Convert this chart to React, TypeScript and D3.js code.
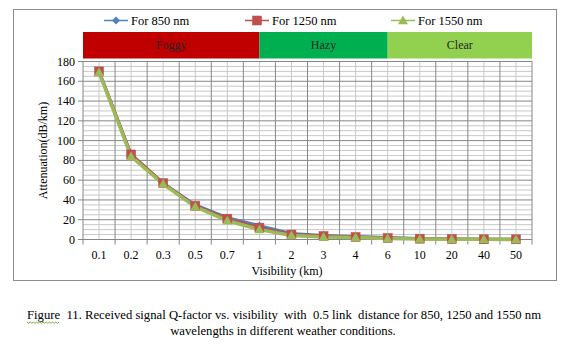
import React from "react";
import * as d3 from "d3";

const categories = ["0.1", "0.2", "0.3", "0.5", "0.7", "1", "2", "3", "4", "6", "10", "20", "40", "50"];
const series850 = [170, 86, 57, 35, 22, 14, 6, 4, 3, 2, 1, 0.5, 0.3, 0.2];
const series1250 = [170, 86, 57, 34, 21, 12, 5, 3.5, 2.5, 1.5, 0.8, 0.4, 0.2, 0.2];
const series1550 = [169, 84, 56, 33, 19, 10, 4, 2.5, 2, 1, 0.5, 0.3, 0.2, 0.1];
const seriesNames = ["For 850 nm", "For 1250 nm", "For 1550 nm"];
const conditions = ["Foggy", "Hazy", "Clear"];
const conditionStart = [0, 5.5, 9.5];
const conditionEnd = [5.5, 9.5, 14];
const yTicks = [0, 20, 40, 60, 80, 100, 120, 140, 160, 180];

const FONT = "'Liberation Serif', 'Times New Roman', serif";

export default function App() {
  const left = 83, right = 532, top = 61.5, bottom = 239.5;
  const xi = d3.scaleLinear().domain([0, categories.length]).range([left, right]);
  const y = d3.scaleLinear().domain([0, 180]).range([bottom, top]);
  const cx = (i: number) => xi(i + 0.5);

  const line = d3.line<number>().x((_, i) => cx(i)).y((d) => y(d));

  const minorY = d3.range(0, 181, 5).filter((v) => v % 20 !== 0);
  const minorX = d3.range(0, categories.length).map((i) => i + 0.5);
  const majorX = d3.range(0, categories.length + 1);

  const colors = ["#4F81BD", "#C0504D", "#9BBB59"];
  const bandColors = ["#C00000", "#00B050", "#92D050"];
  const data = [series850, series1250, series1550];

  const legendX = [104, 245, 391];
  const legendY = 20.5;

  const marker = (k: number, x: number, yy: number, key: string) => {
    if (k === 0) {
      const s = 4;
      return <path key={key} d={`M${x},${yy - s}L${x + s},${yy}L${x},${yy + s}L${x - s},${yy}Z`} fill={colors[0]} />;
    }
    if (k === 1) {
      return <rect key={key} x={x - 4.5} y={yy - 4.5} width={9} height={9} fill={colors[1]} stroke="#B54A47" strokeWidth={0.5} />;
    }
    const s = 5;
    return <path key={key} d={`M${x},${yy - s}L${x + s},${yy + s * 0.75}L${x - s},${yy + s * 0.75}Z`} fill={colors[2]} />;
  };

  // wavy underline under "Figure"
  const wavePts: [number, number][] = [];
  for (let i = 0; i <= 20; i++) wavePts.push([27 + i * 1.6, 322 + (i % 2 === 0 ? 0 : 1.3)]);

  return (
    <svg width={565} height={348} style={{ position: "absolute", left: 0, top: 0, background: "#fff" }} fontFamily={FONT}>
      <rect x={0} y={0} width={565} height={348} fill="#fff" />
      <rect x={13.5} y={9.5} width={543} height={271} fill="#fff" stroke="#8C8C8C" strokeWidth={1} />

      {/* legend */}
      {seriesNames.map((n, k) => (
        <g key={n}>
          <line x1={legendX[k]} x2={legendX[k] + 24} y1={legendY} y2={legendY} stroke={colors[k]} strokeWidth={1.5} />
          {marker(k, legendX[k] + 12, legendY, "lm" + k)}
          <text x={legendX[k] + 27} y={legendY + 4} fontSize={12.5} fill="#000">{n}</text>
        </g>
      ))}

      {/* condition bands */}
      {conditions.map((c, k) => (
        <g key={c}>
          <rect x={xi(conditionStart[k])} y={32} width={xi(conditionEnd[k]) - xi(conditionStart[k])} height={26.5} fill={bandColors[k]} />
          <text x={(xi(conditionStart[k]) + xi(conditionEnd[k])) / 2} y={49} fontSize={12} textAnchor="middle" fill="#262626">{c}</text>
        </g>
      ))}

      {/* grid */}
      {minorY.map((v) => (
        <line key={"my" + v} x1={left} x2={right} y1={y(v)} y2={y(v)} stroke="#C8C8C8" strokeWidth={1} />
      ))}
      {minorX.map((v) => (
        <line key={"mx" + v} x1={xi(v)} x2={xi(v)} y1={top} y2={bottom} stroke="#C8C8C8" strokeWidth={1} />
      ))}
      {yTicks.map((v) => (
        <line key={"gy" + v} x1={left - 5} x2={right} y1={y(v)} y2={y(v)} stroke="#868686" strokeWidth={1} />
      ))}
      {majorX.map((v) => (
        <line key={"gx" + v} x1={xi(v)} x2={xi(v)} y1={top} y2={bottom + 5} stroke="#868686" strokeWidth={1} />
      ))}

      {/* y tick labels */}
      {yTicks.map((v) => (
        <text key={"yl" + v} x={left - 8} y={y(v) + 4} fontSize={12} textAnchor="end" fill="#000">{v}</text>
      ))}
      {/* x tick labels */}
      {categories.map((c, i) => (
        <text key={"xl" + c} x={cx(i)} y={259} fontSize={12} textAnchor="middle" fill="#000">{c}</text>
      ))}

      <text x={287} y={275} fontSize={12} textAnchor="middle" fill="#000">Visibility (km)</text>
      <text transform={`translate(47,${(top + bottom) / 2}) rotate(-90)`} fontSize={12} textAnchor="middle" fill="#000">Attenuation(dB/km)</text>

      {/* series */}
      {data.map((s, k) => (
        <path key={"ln" + k} d={line(s) || ""} fill="none" stroke={colors[k]} strokeWidth={k === 2 ? 3.5 : 3} strokeLinejoin="round" />
      ))}
      {data.map((s, k) => s.map((v, i) => marker(k, cx(i), y(v), `m${k}-${i}`)))}

      {/* caption */}
      <text x={27} y={319} fontSize={12.7} fill="#000" style={{ whiteSpace: "pre" }}>
        {"Figure  11. Received signal Q-factor vs. visibility  with  0.5 link  distance for 850, 1250 and 1550 nm"}
      </text>
      <text x={283} y={335} fontSize={12.7} textAnchor="middle" fill="#000">wavelengths in different weather conditions.</text>
      <polyline points={wavePts.map((p) => p.join(",")).join(" ")} fill="none" stroke="#4E9A06" strokeWidth={0.8} />
    </svg>
  );
}
